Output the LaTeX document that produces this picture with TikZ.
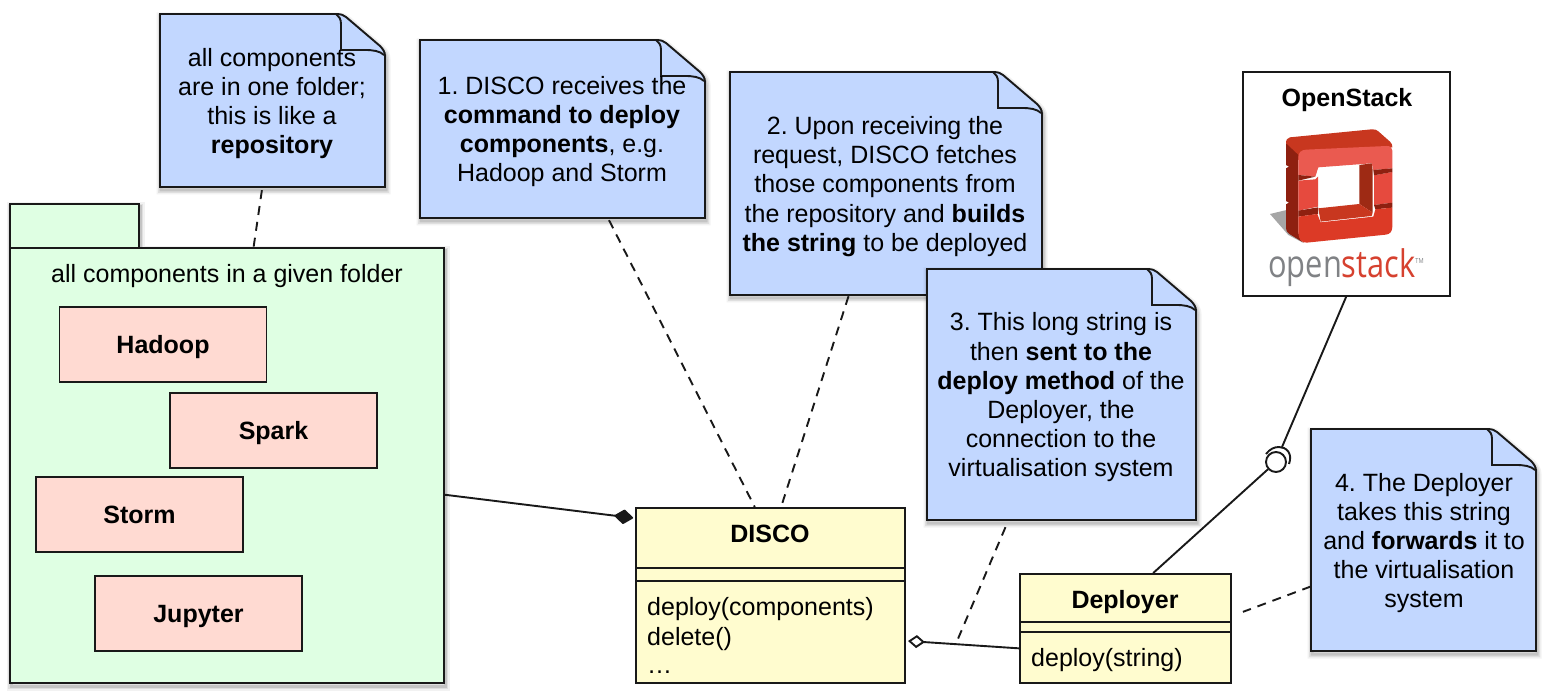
\documentclass[tikz,border=0pt]{standalone}
\usepackage{fontspec}
\setmainfont{Liberation Sans}
\newfontfamily\logofont{Open Sans}
\usetikzlibrary{calc,arrows.meta,shapes.geometric}
\definecolor{noteblue}{HTML}{C2D7FF}
\definecolor{pkggreen}{HTML}{DFFFE3}
\definecolor{compred}{HTML}{FFDAD2}
\definecolor{classyellow}{HTML}{FFFCCF}
\definecolor{logoa}{HTML}{C8371F}
\definecolor{logob}{HTML}{8E2010}
\definecolor{logoc}{HTML}{EA5A50}
\definecolor{logod}{HTML}{E64A3E}
\definecolor{logoe}{HTML}{DC3A26}
\definecolor{logof}{HTML}{9E2A14}
\definecolor{logogrey}{HTML}{808285}
\definecolor{logored}{HTML}{D6412F}
\frenchspacing
\tikzset{
  ln/.style={line width=1.9pt,draw=black!90},
  softshadow/.style={
    preaction={draw=black,line width=9pt,draw opacity=.05,fill=none,transform canvas={xshift=1pt,yshift=-3pt}},
    preaction={draw=black,line width=6pt,draw opacity=.08,fill=none,transform canvas={xshift=1pt,yshift=-3pt}},
    preaction={draw=black,line width=3pt,draw opacity=.12,fill=none,transform canvas={xshift=1pt,yshift=-3pt}}},
  txt/.style={font=\fontsize{25pt}{29.2pt}\selectfont,align=center,inner sep=0pt,yshift=-2pt},
  boldtxt/.style={txt,font=\fontsize{25pt}{29.2pt}\selectfont\bfseries},
  lefttxt/.style={font=\fontsize{25pt}{30pt}\selectfont,align=left,inner sep=0pt,anchor=west,yshift=-2.5pt},
  compbox/.style={ln,fill=compred,rectangle,minimum width=207pt,minimum height=75pt,inner sep=0pt,text height=18pt,text depth=0pt,font=\fontsize{25pt}{29.2pt}\selectfont\bfseries},
  classbox/.style={ln,fill=classyellow},
  dashline/.style={ln,dash pattern=on 9pt off 7pt},
}
\newcommand{\notebox}[7]{%
  \path[ln,fill=noteblue,softshadow] (#2,#3) -- ({#4-47},#3) .. controls ({#4-44},#3) and ({#4-42},{#3+1}) .. ({#4-39},{#3+3})
    -- ({#4-5},{#3+32}) .. controls ({#4-2},{#3+35}) and (#4,{#3+38}) .. (#4,{#3+42}) -- (#4,#5) -- (#2,#5) -- cycle;
  \draw[ln] ({#4-49},#3) .. controls ({#4-46},{#3+2}) and ({#4-44},{#3+5}) .. ({#4-44},{#3+10}) -- ({#4-44},{#3+36})
    -- ({#4-20},{#3+36}) .. controls ({#4-12},{#3+36}) and ({#4-5},{#3+37}) .. ({#4-1},{#3+41});
  \node[rectangle,inner sep=0pt,minimum width={(#4-#2)*1pt},minimum height={(#5-#3)*1pt}] (#1) at ({(#2+#4)/2},{(#3+#5)/2}) {};
  \node[txt] (#1text) at #6 {#7};
}
\begin{document}
\begin{tikzpicture}[x=1pt,y=-1pt]
\useasboundingbox (0,0) rectangle (1558,700);

% package
\path[ln,fill=pkggreen,softshadow] (10,248) -- (10,683) -- (444,683) -- (444,248) -- (139,248) -- (139,204) -- (10,204) -- cycle;
\draw[ln] (10,248) -- (139,248);
\node[rectangle,inner sep=0pt,minimum width=434pt,minimum height=435pt] (pkg) at (227,465.5) {};
\node[txt] (pkglabel) at (227,274) {all components in a given folder};
\node[compbox] (hadoop) at (163,344.5) {Hadoop};
\node[compbox] (spark) at (273.5,430.5) {Spark};
\node[compbox] (storm) at (139.5,514.5) {Storm};
\node[compbox] (jupyter) at (198.5,613.5) {Jupyter};

% notes
\notebox{n1}{160}{14}{385}{187}{(272,101.5)}{all components\\are in one folder;\\this is like a\\\textbf{repository}}
\notebox{n2}{420}{40}{705}{218}{(562,129.5)}{1. DISCO receives the\\\textbf{command to deploy}\\\textbf{components}, e.g.\\Hadoop and Storm}
\notebox{n3}{730}{72}{1042}{295}{(885,184.5)}{2. Upon receiving the\\request, DISCO fetches\\those components from\\the repository and \textbf{builds}\\\textbf{the string} to be deployed}
\notebox{n4}{927}{269}{1196}{520}{(1061,395.5)}{3. This long string is\\then \textbf{sent to the}\\\textbf{deploy method} of the\\Deployer, the\\connection to the\\virtualisation system}
\notebox{n5}{1311}{429}{1536}{651}{(1424,541)}{4. The Deployer\\takes this string\\and \textbf{forwards} it to\\the virtualisation\\system}

% DISCO class
\node[rectangle,classbox,inner sep=0pt,minimum width=269pt,minimum height=175pt] (disco) at (770.5,595.5) {};
\draw[ln] (636,568) -- (905,568) (636,581) -- (905,581);
\node[boldtxt] (discotitle) at (770,532) {DISCO};
\node[lefttxt] (discoa) at (647,607) {deploy(components)};
\node[lefttxt] (discob) at (647,637) {delete()};
\node[lefttxt] (discoc) at (647,670) {…};

% Deployer class
\node[rectangle,classbox,inner sep=0pt,minimum width=211pt,minimum height=109pt] (deployer) at (1125.5,628.5) {};
\draw[ln] (1020,622) -- (1231,622) (1020,632) -- (1231,632);
\node[boldtxt] (deployertitle) at (1125,600) {Deployer};
\node[lefttxt] (deployera) at (1031,658) {deploy(string)};

% OpenStack box
\node[rectangle,ln,fill=white,inner sep=0pt,minimum width=207pt,minimum height=224pt] (os) at (1346.5,184) {};
\node[boldtxt] (ostitle) at (1347,98) {OpenStack};

% logo
\begin{scope}[shift={(1230,60)},x=0.3333pt,y=-0.3333pt]
  \fill[black!35] (120,462) -- (170,450) -- (218,548) -- (175,525) -- cycle;
  \fill[logoa] (180,232) -- (425,208) .. controls (435,207) and (440,210) .. (445,214) -- (480,245) .. controls (486,250) and (487,255) .. (487,262) -- (230,275) -- (205,300) -- (168,250) .. controls (168,240) and (172,233) .. (180,232) -- cycle;
  \fill[logob] (168,250) -- (205,285) -- (205,515) .. controls (207,535) and (212,543) .. (222,549) -- (178,522) .. controls (172,518) and (168,512) .. (168,505) -- (168,433) -- (177,428) -- (168,423) -- (168,325) -- (177,320) -- (168,315) -- cycle;
  \fill[logoc] (205,292) .. controls (205,278) and (213,270) .. (228,269) -- (470,258) .. controls (482,258) and (487,263) .. (487,272) -- (487,325) -- (430,330) -- (425,310) -- (265,322) -- (256,350) -- (205,345) -- cycle;
  \fill[logod] (205,362) -- (256,358) -- (264,350) -- (264,440) -- (205,452) -- cycle;
  \fill[logod] (432,346) -- (487,336) -- (487,428) -- (432,435) -- cycle;
  \fill[logob] (205,345) -- (256,350) -- (205,362) -- cycle;
  \fill[logob] (205,452) -- (264,442) -- (264,462) -- (205,470) -- cycle;
  \fill[logob] (430,330) -- (487,325) -- (487,336) -- (432,346) -- cycle;
  \fill[logob] (432,435) -- (487,428) -- (487,443) -- (436,448) -- cycle;
  \fill[logof] (388,315) -- (425,310) -- (428,330) -- (428,458) -- (388,432) -- cycle;
  \fill[logoa] (265,445) -- (388,432) -- (428,458) -- (425,468) -- (272,485) -- cycle;
  \fill[logoe] (205,470) -- (262,462) -- (272,487) -- (430,470) -- (436,448) -- (487,443) -- (487,500) .. controls (487,515) and (480,522) .. (468,524) -- (230,548) .. controls (212,549) and (205,535) .. (205,515) -- cycle;
\end{scope}
\node[inner sep=0pt,xscale=.81,font=\fontsize{38pt}{38pt}\selectfont\logofont] (oslogo) at (1346,268) {\textcolor{logogrey}{open}\textcolor{logored}{stack}\raisebox{14pt}{\textcolor{logogrey}{\fontsize{7pt}{7pt}\selectfont TM}}};

% connectors
\draw[dashline] ($(n1.south west)!.453!(n1.south east)+(0,3)$) -- ($(pkg.north west)!.561!(pkg.north east)$);
\draw[dashline] ($(n2.south west)!.663!(n2.south east)+(0,2)$) -- ($(disco.north west)!.442!(disco.north east)$);
\draw[dashline] ($(n3.south west)!.38!(n3.south east)+(0,1)$) -- ($(disco.north west)!.539!(disco.north east)$);
\draw[ln,shorten >=2pt,-{Diamond[length=20pt,width=15pt,round]}] ($(pkg.north east)!.567!(pkg.south east)$) -- ($(disco.north west)!.063!(disco.south west)$);
\coordinate (aggend) at (908,641);
\draw[ln,-{Diamond[open,fill=white,length=17pt,width=13pt]}] ($(deployer.north west)!.679!(deployer.south west)$) -- (aggend);
\coordinate (aggmid) at (956,643.5);
\draw[dashline] ($(n4.south west)!.292!(n4.south east)+(0,7)$) -- (aggmid);
\draw[dashline] ($(n5.north west)!.709!(n5.south west)$) -- ($(deployer.north east)!.35!(deployer.south east)+(11,0)$);
\node[circle,ln,fill=white,inner sep=0pt,minimum size=20pt] (ball) at (1276,462) {};
\draw[ln] ($(deployer.north west)!.630!(deployer.north east)$) -- (ball);
\coordinate (socket) at (1282,447);
\draw[ln] (1266,454) .. controls (1270,449) and (1274,447) .. (1279,447) .. controls (1286,447) and (1293,453) .. (1289,464);
\draw[ln] ($(os.south west)!.498!(os.south east)$) -- (socket);
\end{tikzpicture}
\end{document}
